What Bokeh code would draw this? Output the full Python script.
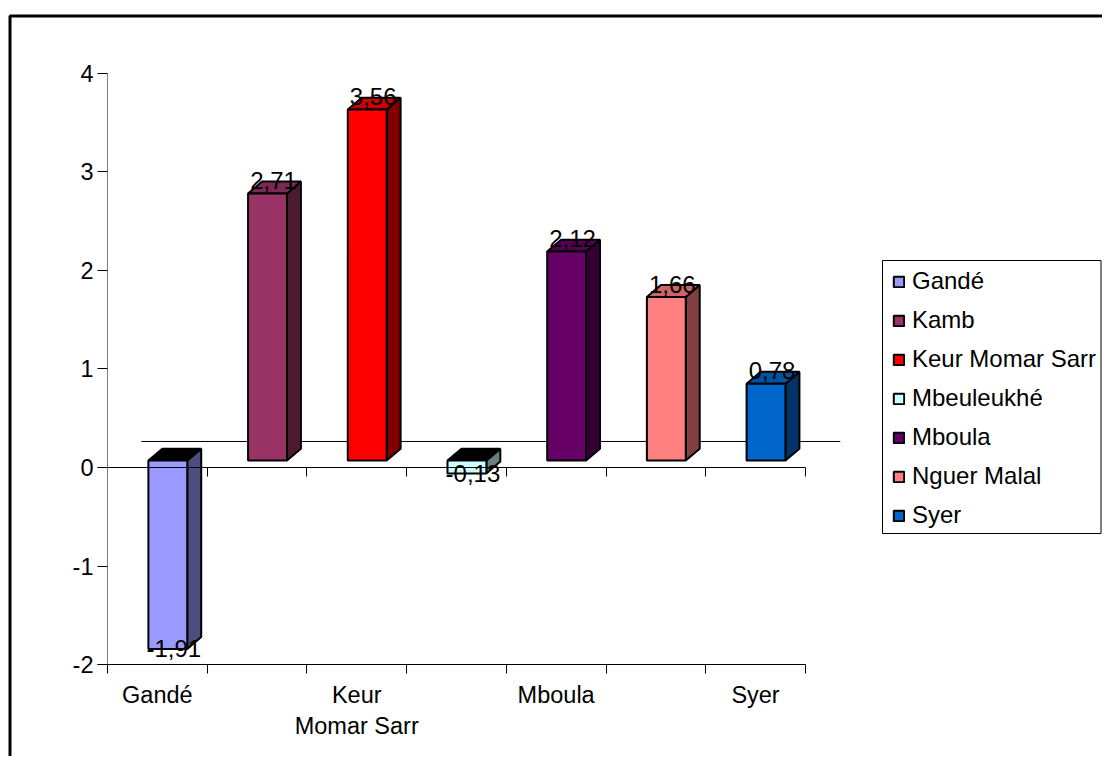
from bokeh.plotting import figure
from bokeh.models import (Range1d, LinearAxis, FixedTicker, Legend, LegendItem,
                          BoxAnnotation)
from bokeh.core.properties import value
from bokeh.embed import file_html
from bokeh.resources import INLINE

categories = ["Gandé", "Kamb", "Keur Momar Sarr", "Mbeuleukhé", "Mboula", "Nguer Malal", "Syer"]
values = [-1.91, 2.71, 3.56, -0.13, 2.12, 1.66, 0.78]
labels = ["-1,91", "2,71", "3,56", "-0,13", "2,12", "1,66", "0,78"]
colors = ["#9999FF", "#993366", "#FF0000", "#CCFFFF", "#660066", "#FF8080", "#0066CC"]
tops = ["#000000", "#7A2952", "#CC0000", "#000000", "#520052", "#CC6666", "#0052A3"]
sides = ["#4D4D80", "#4D1A33", "#800000", "#668080", "#330033", "#804040", "#003366"]
y_ticks = [-2, -1, 0, 1, 2, 3, 4]
y_tick_labels = {-2: "-2", -1: "-1", 0: "0", 1: "1", 2: "2", 3: "3", 4: "4"}
x_tick_labels = {0.5: "Gandé", 2.5: "Keur\nMomar Sarr", 4.5: "Mboula", 6.5: "Syer"}

W, H = 1102, 756
PX = 99.7      # pixels per category
PY = 98.6      # pixels per y unit
X0 = 107       # canvas x of category 0
Y0 = 467       # canvas y of value 0

FONT = "Liberation Sans"
FS = "23.5px"
FS_BIG = "24px"

p = figure(width=W, height=H, output_backend="svg", toolbar_location=None,
           x_range=Range1d(-X0 / PX, (W - X0) / PX),
           y_range=Range1d(-(H - Y0) / PY, Y0 / PY),
           min_border=0, outline_line_color=None, background_fill_color="white",
           x_axis_type=None, y_axis_type=None)
p.grid.visible = False

# 3D geometry, in axis units
BAR_L = 0.41
BAR_R = 0.80
BASE = 0.07
DX = 0.14
DY = 0.12

# floor line
p.segment(x0=[0.34], y0=[0.264], x1=[7.35], y1=[0.264], line_color="black", line_width=1)

# axes
yax = LinearAxis(fixed_location=0, bounds=(-2, 4), ticker=FixedTicker(ticks=y_ticks),
                 major_label_overrides=y_tick_labels,
                 axis_line_color="#808080", axis_line_width=1,
                 major_tick_line_color="black", major_tick_out=10, major_tick_in=0,
                 minor_tick_line_color=None, major_label_standoff=4,
                 major_label_text_font=FONT, major_label_text_font_size=FS,
                 major_label_text_color="black")
p.add_layout(yax, "left")

for loc in (0, -2):
    xa = LinearAxis(fixed_location=loc, bounds=(-0.1, 7), ticker=FixedTicker(ticks=list(range(8))),
                    axis_line_color="black", major_tick_line_color="black",
                    major_tick_out=9, major_tick_in=0, minor_tick_line_color=None,
                    major_label_text_font_size="0px", major_label_text_color=None)
    p.add_layout(xa, "below")

xl = LinearAxis(fixed_location=-2, ticker=FixedTicker(ticks=list(x_tick_labels)),
                major_label_overrides=x_tick_labels, axis_line_color=None,
                major_tick_line_color=None, minor_tick_line_color=None,
                major_tick_out=0, major_tick_in=0, major_label_standoff=17,
                major_label_text_font=FONT, major_label_text_font_size=FS,
                major_label_text_color="black")
p.add_layout(xl, "below")

items = []
for i, (name, v, c, t, s) in enumerate(zip(categories, values, colors, tops, sides)):
    l, r = i + BAR_L, i + BAR_R
    bottom, top = (v + BASE, BASE) if v < 0 else (BASE, v + BASE)
    # side face
    p.patch([r, r + DX, r + DX, r], [bottom, bottom + DY, top + DY, top],
            fill_color=s, line_color="black", line_width=2)
    # top face
    p.patch([l, l + DX, r + DX, r], [top, top + DY, top + DY, top],
            fill_color=t, line_color="black", line_width=2)
    # front face
    g = p.quad(left=[l], right=[r], bottom=[bottom], top=[top],
               fill_color=c, line_color="black", line_width=2)
    items.append(LegendItem(label=name, renderers=[g]))

# data labels
lx = [i + (BAR_L + BAR_R) / 2 + 0.06 for i in range(len(values))]
ly = [v + BASE + (0.13 if v >= 0 else 0) for v in values]
p.text(lx, ly, text=labels, text_align="center", text_baseline="middle",
       text_font=value(FONT), text_font_size=value(FS_BIG), text_color="black")

# legend frame, then the legend itself inside it
legend_box = BoxAnnotation(left=882, right=1100.5, top=H - 260, bottom=H - 533,
                           left_units="screen", right_units="screen",
                           top_units="screen", bottom_units="screen",
                           fill_color=None, line_color="black", line_alpha=1,
                           line_width=1, level="annotation")
p.add_layout(legend_box)

legend = Legend(items=items, location=(892, H - 529), orientation="vertical",
                border_line_color=None, background_fill_alpha=0,
                padding=9, margin=0, spacing=11,
                glyph_width=13, glyph_height=13, label_standoff=7,
                label_text_font=FONT, label_text_font_size=FS_BIG, label_text_color="black",
                label_height=27)
p.add_layout(legend, "center")

# outer border of the picture: left and top edges only are in view
border = BoxAnnotation(left=9.5, right=W + 20, top=H - 15.5, bottom=-20,
                       left_units="screen", right_units="screen",
                       top_units="screen", bottom_units="screen",
                       fill_color=None, line_color="black", line_alpha=1,
                       line_width=3, level="overlay")
p.add_layout(border)

open("out.html", "w").write(file_html(p, INLINE))
